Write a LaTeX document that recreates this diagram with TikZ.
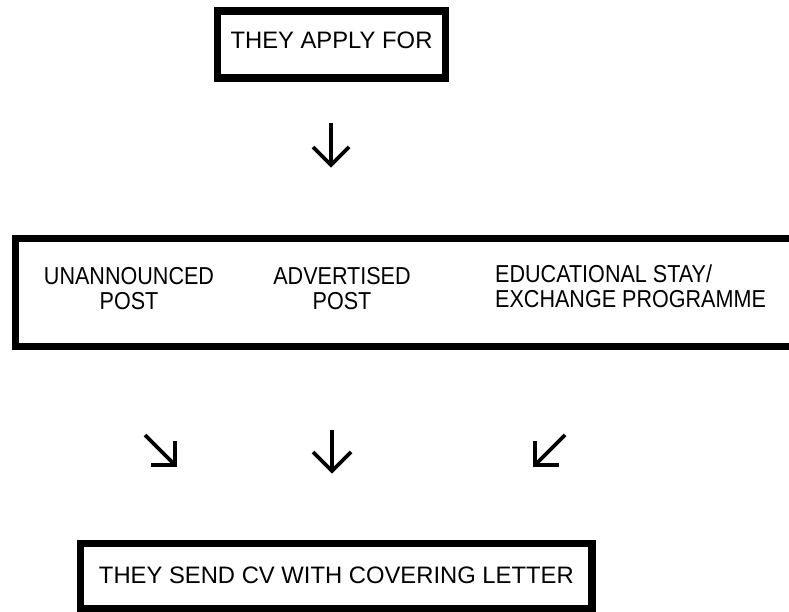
\documentclass[tikz,border=0pt]{standalone}
\usepackage{fontspec}
\setmainfont{Liberation Sans}
\newfontfamily\narrowfont[FakeStretch=0.88]{Liberation Sans}
\begin{document}
\begin{tikzpicture}[x=1pt,y=-1pt,
  box/.style={draw, line width=7.2pt, inner sep=0pt, font=\fontsize{23.8}{28}\selectfont},
  lbl/.style={inner sep=0pt, font=\narrowfont\fontsize{24.5}{24.6}\selectfont},
  arr/.style={line width=3.8pt, miter limit=10}]
\useasboundingbox (0,0) rectangle (789,612);
\clip (0,0) rectangle (789,612);
% top box
\node[box, minimum width=228pt, minimum height=67pt, text height=17pt, text depth=9pt] (apply) at (331.5,44.5) {THEY APPLY FOR};
% middle box (open on the right, runs off the page)
\coordinate (mtl) at (15.5,238.5);
\coordinate (mbl) at (15.5,346.5);
\coordinate (mtr) at (800,238.5);
\coordinate (mbr) at (800,346.5);
\draw[line width=7.2pt] (mtr) -- (mtl) -- (mbl) -- (mbr);
\node[lbl, align=center] (unann) at (129,288.5) {UNANNOUNCED\\POST};
\node[lbl, align=center] (advert) at (342,288.5) {ADVERTISED\\POST};
\node[lbl, align=left, anchor=west] (edu) at (495,286) {EDUCATIONAL STAY/\\EXCHANGE PROGRAMME};
% bottom box
\node[box, minimum width=511.3pt, minimum height=64.8pt, text height=17pt, text depth=2.2pt] (send) at (336.35,576.1) {THEY SEND CV WITH COVERING LETTER};
% arrows
\coordinate (a1s) at (331,123);
\coordinate (a1t) at (331,165);
\draw[arr] (a1s) -- (a1t);
\draw[arr] (a1t) ++(-18,-18) -- (a1t) -- ++(18,-18);
\coordinate (a2s) at (145,435);
\coordinate (a2t) at (175,465);
\draw[arr] (a2s) -- (a2t);
\draw[arr] (a2t) ++(0,-24) -- (a2t) -- ++(-24,0);
\coordinate (a3s) at (332,430);
\coordinate (a3t) at (332,471);
\draw[arr] (a3s) -- (a3t);
\draw[arr] (a3t) ++(-19,-19) -- (a3t) -- ++(19,-19);
\coordinate (a4s) at (565,435);
\coordinate (a4t) at (535,465);
\draw[arr] (a4s) -- (a4t);
\draw[arr] (a4t) ++(0,-24) -- (a4t) -- ++(24,0);
\end{tikzpicture}
\end{document}
